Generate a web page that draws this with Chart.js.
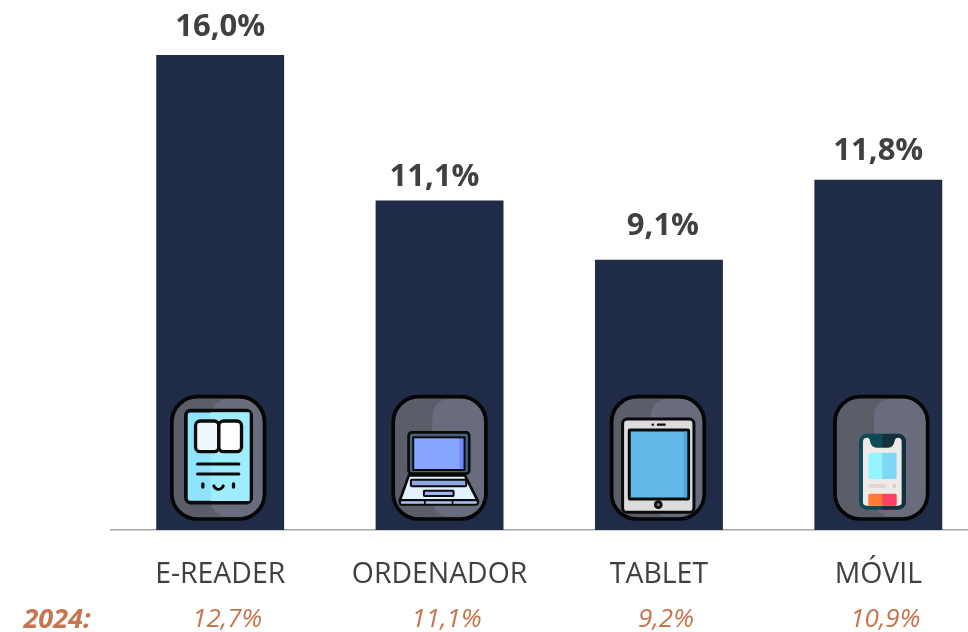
<!DOCTYPE html>
<html>
<head>
<meta charset="utf-8">
<script src="https://cdn.jsdelivr.net/npm/chart.js@4"></script>
<style>
  html, body { margin: 0; padding: 0; background: #fff; overflow: hidden; }
  #wrap { width: 968px; height: 632px; overflow: hidden; }
  canvas { display: block; }
</style>
</head>
<body>
<div id="wrap"><canvas id="chart" width="988" height="632"></canvas></div>
<script>
// datos
const categories = ['E-READER', 'ORDENADOR', 'TABLET', 'MÓVIL'];
const values = [16.0, 11.1, 9.1, 11.8];
const values2024 = [12.7, 11.1, 9.2, 10.9];
const label2024 = '2024:';

const FONT = '"Open Sans", sans-serif';
const fmt = v => v.toFixed(1).replace('.', ',') + '%';

function rr(ctx, x, y, w, h, r, fill, stroke, lw) {
    ctx.beginPath();
    ctx.roundRect(x, y, w, h, r);
    if (fill) { ctx.fillStyle = fill; ctx.fill(); }
    if (stroke) { ctx.strokeStyle = stroke; ctx.lineWidth = lw || 6; ctx.stroke(); }
}

function line(ctx, x1, y1, x2, y2, lw, color) {
    ctx.beginPath();
    ctx.moveTo(x1, y1);
    ctx.lineTo(x2, y2);
    ctx.lineCap = 'round';
    ctx.lineWidth = lw;
    ctx.strokeStyle = color || '#0a0a0a';
    ctx.stroke();
}

// los iconos se dibujan en unidades de 1/3 de pixel, origen en la esquina del marco
function drawFrame(ctx) {
    ctx.save();
    ctx.beginPath();
    ctx.roundRect(5, 5, 278, 367, 76);
    ctx.clip();
    ctx.fillStyle = '#5b5d69';
    ctx.fillRect(0, 0, 288, 377);
    rr(ctx, 122, 12, 240, 353, 50, '#686c7c');
    ctx.restore();
    rr(ctx, 5, 5, 278, 367, 76, null, '#050505', 11);
}

function iconReader(ctx) {
    rr(ctx, 47, 47, 196, 276, 14, '#8fe3ff', '#0a0a0a', 11);
    ctx.fillStyle = '#9feeff';
    ctx.fillRect(122, 52, 116, 266);
    rr(ctx, 76, 78, 70, 92, 14, '#eef6fb', '#0a0a0a', 10);
    rr(ctx, 146, 78, 68, 92, 14, '#ffffff', '#0a0a0a', 10);
    line(ctx, 82, 207, 206, 207, 9);
    line(ctx, 82, 237, 206, 237, 9);
    line(ctx, 98, 267, 98, 276, 10);
    line(ctx, 190, 267, 190, 276, 10);
    ctx.beginPath();
    ctx.arc(145, 268, 15, 0.3, Math.PI - 0.3);
    ctx.lineWidth = 9;
    ctx.strokeStyle = '#0a0a0a';
    ctx.stroke();
}

function iconLaptop(ctx) {
    rr(ctx, 51, 112, 182, 124, 10, '#47637d', '#0a0a0a', 8);
    ctx.fillStyle = '#86a6ff';
    ctx.fillRect(65, 127, 154, 98);
    ctx.fillStyle = '#6f88ff';
    ctx.fillRect(204, 127, 15, 98);
    ctx.strokeStyle = '#0a0a0a';
    ctx.lineWidth = 6;
    ctx.strokeRect(65, 127, 154, 98);
    ctx.beginPath();
    ctx.moveTo(52, 241);
    ctx.lineTo(220, 241);
    ctx.lineTo(258, 316);
    ctx.lineTo(25, 316);
    ctx.closePath();
    ctx.fillStyle = '#e0f1ff';
    ctx.fill();
    ctx.lineWidth = 8;
    ctx.stroke();
    rr(ctx, 58, 254, 166, 20, 3, '#8fa8e8', '#0a0a0a', 6);
    rr(ctx, 97, 287, 89, 16, 2, '#9db8ee', '#0a0a0a', 6);
    rr(ctx, 25, 316, 234, 13, 6, '#a9c4f5', '#0a0a0a', 6);
    line(ctx, 100, 316, 100, 329, 5);
    line(ctx, 183, 316, 183, 329, 5);
}

function iconTablet(ctx) {
    rr(ctx, 38, 72, 214, 280, 14, '#dcdcdc', '#0a0a0a', 9);
    rr(ctx, 58, 105, 178, 207, 2, '#62b8e8', '#0a0a0a', 9);
    ctx.fillStyle = '#4aa4da';
    ctx.fillRect(222, 110, 10, 197);
    ctx.fillStyle = '#0a0a0a';
    ctx.beginPath();
    ctx.arc(145, 329, 13, 0, Math.PI * 2);
    ctx.fill();
    ctx.fillStyle = '#777';
    ctx.beginPath();
    ctx.arc(145, 329, 5, 0, Math.PI * 2);
    ctx.fill();
    line(ctx, 144, 89, 164, 89, 7);
    line(ctx, 128, 89, 129, 89, 7);
}

function iconPhone(ctx) {
    rr(ctx, 77, 116, 141, 228, 24, '#0d4a55');
    ctx.save();
    ctx.beginPath();
    ctx.rect(147, 116, 80, 228);
    ctx.clip();
    rr(ctx, 77, 116, 141, 228, 24, '#14303f');
    ctx.restore();
    // pantalla con muesca
    ctx.beginPath();
    ctx.moveTo(101, 128);
    ctx.quadraticCurveTo(109, 128, 110, 138);
    ctx.quadraticCurveTo(114, 158, 130, 158);
    ctx.lineTo(164, 158);
    ctx.quadraticCurveTo(180, 158, 184, 138);
    ctx.quadraticCurveTo(186, 128, 194, 128);
    ctx.quadraticCurveTo(205, 128, 205, 140);
    ctx.lineTo(205, 322);
    ctx.quadraticCurveTo(205, 332, 195, 332);
    ctx.lineTo(99, 332);
    ctx.quadraticCurveTo(89, 332, 89, 322);
    ctx.lineTo(89, 140);
    ctx.quadraticCurveTo(89, 128, 101, 128);
    ctx.closePath();
    ctx.fillStyle = '#efe9e7';
    ctx.fill();
    rr(ctx, 105, 173, 85, 79, 6, '#95f5ff');
    ctx.save();
    ctx.beginPath();
    ctx.rect(147, 173, 43, 79);
    ctx.clip();
    rr(ctx, 105, 173, 85, 79, 6, '#7fd6f5');
    ctx.restore();
    rr(ctx, 105, 267, 55, 12, 6, '#e0d6d6');
    rr(ctx, 177, 267, 12, 12, 6, '#d6cccc');
    rr(ctx, 105, 296, 85, 36, 5, '#ff7a33');
    ctx.save();
    ctx.beginPath();
    ctx.rect(147, 296, 43, 36);
    ctx.clip();
    rr(ctx, 105, 296, 85, 36, 5, '#ff3f63');
    ctx.restore();
}

const icons = [iconReader, iconLaptop, iconTablet, iconPhone];
const iconShift = [-2, 0, -1, 3];
// ajuste a mano de las etiquetas respecto a la barra
const labelShiftX = [0, -5, 4, 0];
const labelGap = [28, 23, 34, 28];

// etiquetas de valor, iconos y fila de 2024
const extras = {
    id: 'extras',
    afterDatasetsDraw(chart) {
        const ctx = chart.ctx;
        const x = chart.scales.x;
        const y = chart.scales.y;

        // iconos sobre las barras
        icons.forEach((draw, i) => {
            ctx.save();
            ctx.translate(x.getPixelForValue(i) + iconShift[i] - 48, 395);
            ctx.scale(1 / 3, 1 / 3);
            drawFrame(ctx);
            draw(ctx);
            ctx.restore();
        });

        ctx.save();
        ctx.textAlign = 'center';
        ctx.textBaseline = 'middle';

        ctx.font = 'bold 31px ' + FONT;
        ctx.fillStyle = '#404040';
        values.forEach((v, i) => {
            ctx.fillText(fmt(v), x.getPixelForValue(i) + labelShiftX[i], y.getPixelForValue(v) - labelGap[i]);
        });

        ctx.fillStyle = '#c8744d';
        ctx.font = 'italic 26px ' + FONT;
        values2024.forEach((v, i) => {
            ctx.fillText(fmt(v), x.getPixelForValue(i) + 7, 620);
        });
        ctx.font = 'italic bold 27px ' + FONT;
        ctx.fillText(label2024, 57, 620);
        ctx.restore();
    }
};

new Chart(document.getElementById('chart').getContext('2d'), {
    type: 'bar',
    data: {
        labels: categories,
        datasets: [{
            data: values,
            backgroundColor: '#1f2b47',
            barPercentage: 0.583,
            categoryPercentage: 1
        }]
    },
    options: {
        responsive: false,
        animation: false,
        layout: { padding: { left: 110.5, right: 0, top: 0, bottom: 0 } },
        scales: {
            x: {
                afterFit(scale) { scale.height = 102; },
                grid: { display: false, drawTicks: false },
                border: { color: '#a6a6a6', width: 1.5 },
                ticks: {
                    color: '#404040',
                    padding: 28,
                    maxRotation: 0,
                    autoSkip: false,
                    font: { family: FONT, size: 28.4 }
                }
            },
            y: {
                display: false,
                min: 0,
                max: 17.85
            }
        },
        plugins: {
            legend: { display: false },
            tooltip: { enabled: false }
        }
    },
    plugins: [extras]
});
</script>
</body>
</html>
